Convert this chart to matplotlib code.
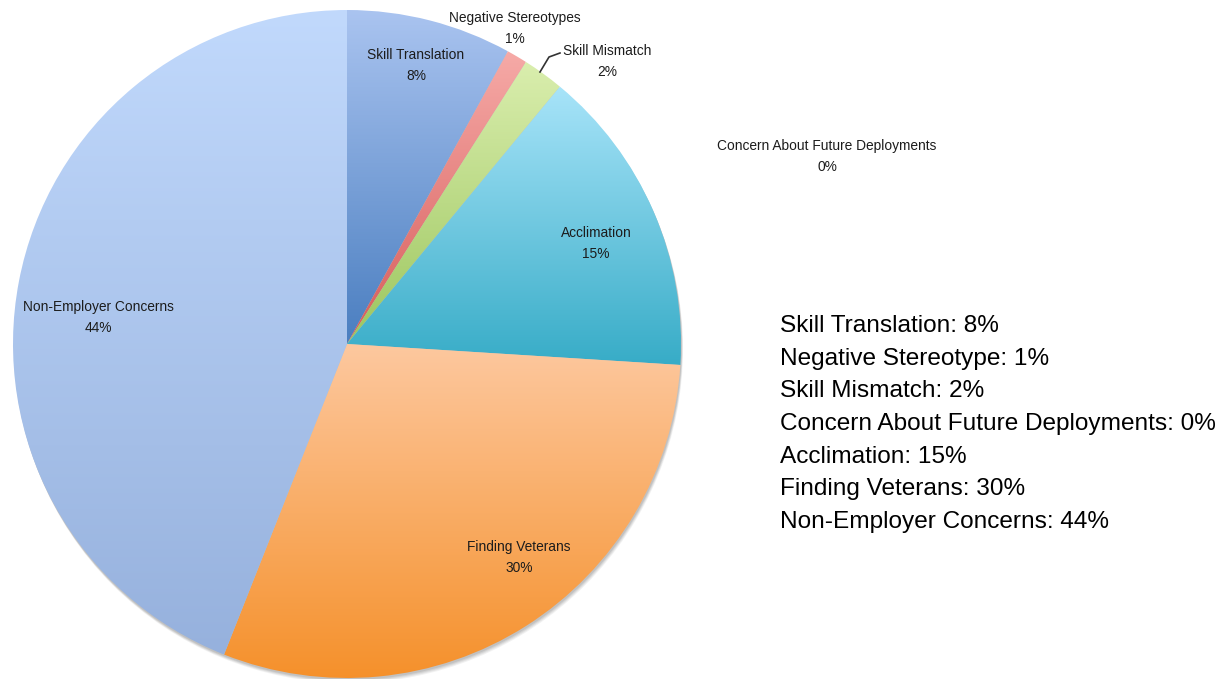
import numpy as np
import matplotlib
matplotlib.use("Agg")
import matplotlib.pyplot as plt
from matplotlib.patches import Circle
from matplotlib.colors import LinearSegmentedColormap

plt.rcParams['font.family'] = ['Liberation Sans', 'DejaVu Sans']

# Survey categories and their shares (percent)
categories = ["Skill Translation", "Negative Stereotypes", "Skill Mismatch",
              "Concern About Future Deployments", "Acclimation",
              "Finding Veterans", "Non-Employer Concerns"]
values = [8, 1, 2, 0, 15, 30, 44]

# Names used in the summary list on the right
summary_names = ["Skill Translation", "Negative Stereotype", "Skill Mismatch",
                 "Concern About Future Deployments", "Acclimation",
                 "Finding Veterans", "Non-Employer Concerns"]

# Vertical gradient per slice: (top colour, bottom colour)
gradients = [("#aac4f0", "#4a7ec0"),
             ("#f6aaa7", "#d65c5a"),
             ("#daeeae", "#9cc65e"),
             ("#cccccc", "#999999"),
             ("#a8e4f9", "#37acc7"),
             ("#fdc89f", "#f5902a"),
             ("#c1d9fc", "#96b1dd")]

W, H = 1231, 679
fig = plt.figure(figsize=(W / 100, H / 100), dpi=100)
ax = fig.add_axes([0, 0, 1, 1])
ax.set_xlim(0, W)
ax.set_ylim(0, H)
ax.set_aspect('equal')
ax.axis('off')

cx, cy, R = 347, H - 344, 334

# soft drop shadow under the pie
for off, a in [(5, 0.10), (4, 0.12), (3, 0.15), (2, 0.18)]:
    ax.add_patch(Circle((cx + off * 0.4, cy - off), R, facecolor='#777777',
                        edgecolor='none', alpha=a, zorder=0))

wedges, _ = ax.pie(values, center=(cx, cy), radius=R, startangle=90,
                   counterclock=False, frame=True,
                   wedgeprops=dict(linewidth=0))
ax.set_xlim(0, W)
ax.set_ylim(0, H)
ax.axis('off')

for w, (top, bot) in zip(wedges, gradients):
    w.set_facecolor('none')
    w.set_edgecolor('none')
    w.set_zorder(2)
    verts = w.get_path().vertices
    x0, x1 = verts[:, 0].min(), verts[:, 0].max()
    y0, y1 = verts[:, 1].min(), verts[:, 1].max()
    if x1 - x0 < 0.5:
        continue
    cmap = LinearSegmentedColormap.from_list("g", [bot, top])
    grad = np.linspace(0, 1, 256).reshape(-1, 1)
    im = ax.imshow(grad, cmap=cmap, extent=(x0, x1, y0, y1), origin='lower',
                   aspect='auto', zorder=1, interpolation='bilinear')
    im.set_clip_path(w)

ax.set_xlim(0, W)
ax.set_ylim(0, H)

# slice labels (name above, percent below), positions in pixel space
label_pos = [(416, 55), (515, 18), (607, 51), (827, 146),
             (596, 233), (519, 547), (98, 307)]
for name, v, (lx, ly) in zip(categories, values, label_pos):
    ax.text(lx, H - ly, name, ha='center', va='center', fontsize=9.9,
            color='#1c1c1c', zorder=5)
    ax.text(lx, H - ly - 21, f"{v}%", ha='center', va='center', fontsize=9.9,
            color='#1c1c1c', zorder=5)

# leader line for the thin Skill Mismatch slice
ax.plot([540, 549, 560], [H - 72, H - 57, H - 53], color='#333333', lw=1.2,
        zorder=5)

# summary list on the right
for i, (name, v) in enumerate(zip(summary_names, values)):
    ax.text(780, H - (326 + i * 32.7), f"{name}: {v}%", ha='left', va='center',
            fontsize=17.6, color='black')

fig.savefig("out.png", dpi=100)
